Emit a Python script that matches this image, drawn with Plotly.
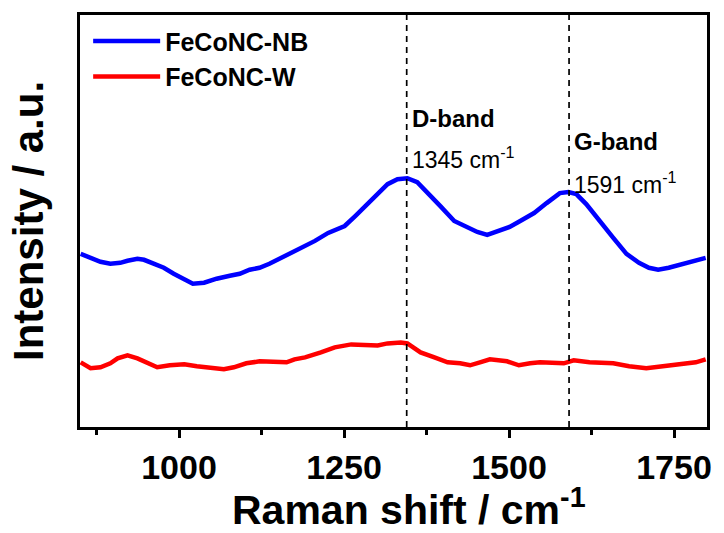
import plotly.graph_objects as go

# Raman shift (cm^-1) and intensities (a.u.)
nb_shift = [851, 866, 881, 896, 911, 922, 937, 947, 962, 977, 992, 1008, 1021, 1038, 1057,
            1077, 1092, 1107, 1122, 1137, 1152, 1167, 1178, 1185, 1206, 1226, 1251, 1267,
            1286, 1301, 1316, 1331, 1346, 1361, 1376, 1396, 1417, 1437, 1452, 1467, 1482,
            1501, 1517, 1538, 1557, 1577, 1590, 1602, 1617, 1637, 1658, 1678, 1697, 1712,
            1726, 1742, 1764, 1783, 1798]
nb_int = [174, 170, 166, 164, 165, 167, 169, 168, 164, 160, 154, 149, 144, 145, 149,
          152, 154, 158, 160, 164, 169, 174, 178, 180, 187, 195, 202, 212,
          224, 234, 244, 249, 250, 246, 235, 222, 207, 200, 196, 193, 197,
          201, 207, 215, 225, 235, 236, 234, 224, 207, 190, 174, 165, 160,
          158, 160, 164, 167, 170]

w_shift = [851, 866, 881, 896, 907, 922, 937, 952, 967, 986, 1008, 1027, 1047, 1068, 1083,
           1102, 1122, 1143, 1163, 1175, 1191, 1215, 1236, 1261, 1286, 1301, 1316, 1336,
           1346, 1366, 1387, 1407, 1426, 1441, 1456, 1471, 1497, 1515, 1532, 1547, 1583,
           1598, 1622, 1658, 1682, 1708, 1733, 1764, 1783, 1798]
w_int = [65, 59, 60, 64, 69, 72, 69, 65, 60, 62, 63, 61, 59, 58, 60,
         64, 66, 65, 65, 68, 70, 75, 80, 83, 82, 82, 84, 85,
         84, 75, 70, 65, 64, 62, 65, 68, 66, 62, 64, 65, 64,
         67, 65, 64, 61, 59, 61, 63, 65, 68]

band_pos = [1345, 1591]
band_names = ["D-band", "G-band"]
band_name_y = [310, 287]
band_value_y = [270, 245]

x_ticks = [1000, 1250, 1500, 1750]
x_minor = [875, 1125, 1375, 1625]
x_range = [850, 1800]
y_range = [0, 414]

FONT = "Arial, Liberation Sans, sans-serif"

fig = go.Figure()
fig.add_trace(go.Scatter(x=nb_shift, y=nb_int, mode="lines", name="FeCoNC-NB",
                         line=dict(color="#0000FF", width=4.5)))
fig.add_trace(go.Scatter(x=w_shift, y=w_int, mode="lines", name="FeCoNC-W",
                         line=dict(color="#FF0000", width=4.5)))

for bp in band_pos:
    fig.add_vline(x=bp, line=dict(color="black", width=1.7, dash="6px,5px"))

for bp, nm, ny, vy in zip(band_pos, band_names, band_name_y, band_value_y):
    fig.add_annotation(x=bp, y=ny, xref="x", yref="y", text=nm, showarrow=False,
                       xanchor="left", yanchor="middle", xshift=3,
                       font=dict(family=FONT, size=24, color="black", weight="bold"))
    fig.add_annotation(x=bp, y=vy, xref="x", yref="y", text=f"{bp} cm<sup>-1</sup>",
                       showarrow=False, xanchor="left", yanchor="middle", xshift=3,
                       font=dict(family=FONT, size=23, color="black"))

fig.add_annotation(x=0.525, y=-0.262, xref="paper", yref="paper",
                   text="Raman shift / cm<sup>-1</sup>", showarrow=False,
                   xanchor="center", yanchor="bottom",
                   font=dict(family=FONT, size=41, color="black", weight="bold"))
fig.add_annotation(x=-0.083, y=0.5, xref="paper", yref="paper",
                   text="Intensity / a.u.", showarrow=False, textangle=-90,
                   xanchor="center", yanchor="middle",
                   font=dict(family=FONT, size=42, color="black", weight="bold"))

fig.update_layout(
    width=724, height=533,
    margin=dict(l=80, r=14, t=13, b=106),
    paper_bgcolor="white", plot_bgcolor="white",
    showlegend=True,
    legend=dict(x=0.013, y=0.992, xanchor="left", yanchor="top",
                bgcolor="rgba(0,0,0,0)", borderwidth=0, itemwidth=67,
                font=dict(family=FONT, size=25, color="black", weight="bold"),
                tracegroupgap=0),
    xaxis=dict(range=x_range, tickvals=x_ticks, ticks="outside", ticklen=8,
               tickwidth=2.5, tickcolor="black", showline=True, mirror=True,
               linewidth=3, linecolor="black", showgrid=False, zeroline=False,
               tickfont=dict(family=FONT, size=34, color="black", weight="bold"),
               minor=dict(tickvals=x_minor, ticks="outside", ticklen=5,
                          tickwidth=2.5, tickcolor="black", showgrid=False)),
    yaxis=dict(range=y_range, showticklabels=False, ticks="", showline=True,
               mirror=True, linewidth=3, linecolor="black", showgrid=False,
               zeroline=False),
)

fig.write_html("out.html")
